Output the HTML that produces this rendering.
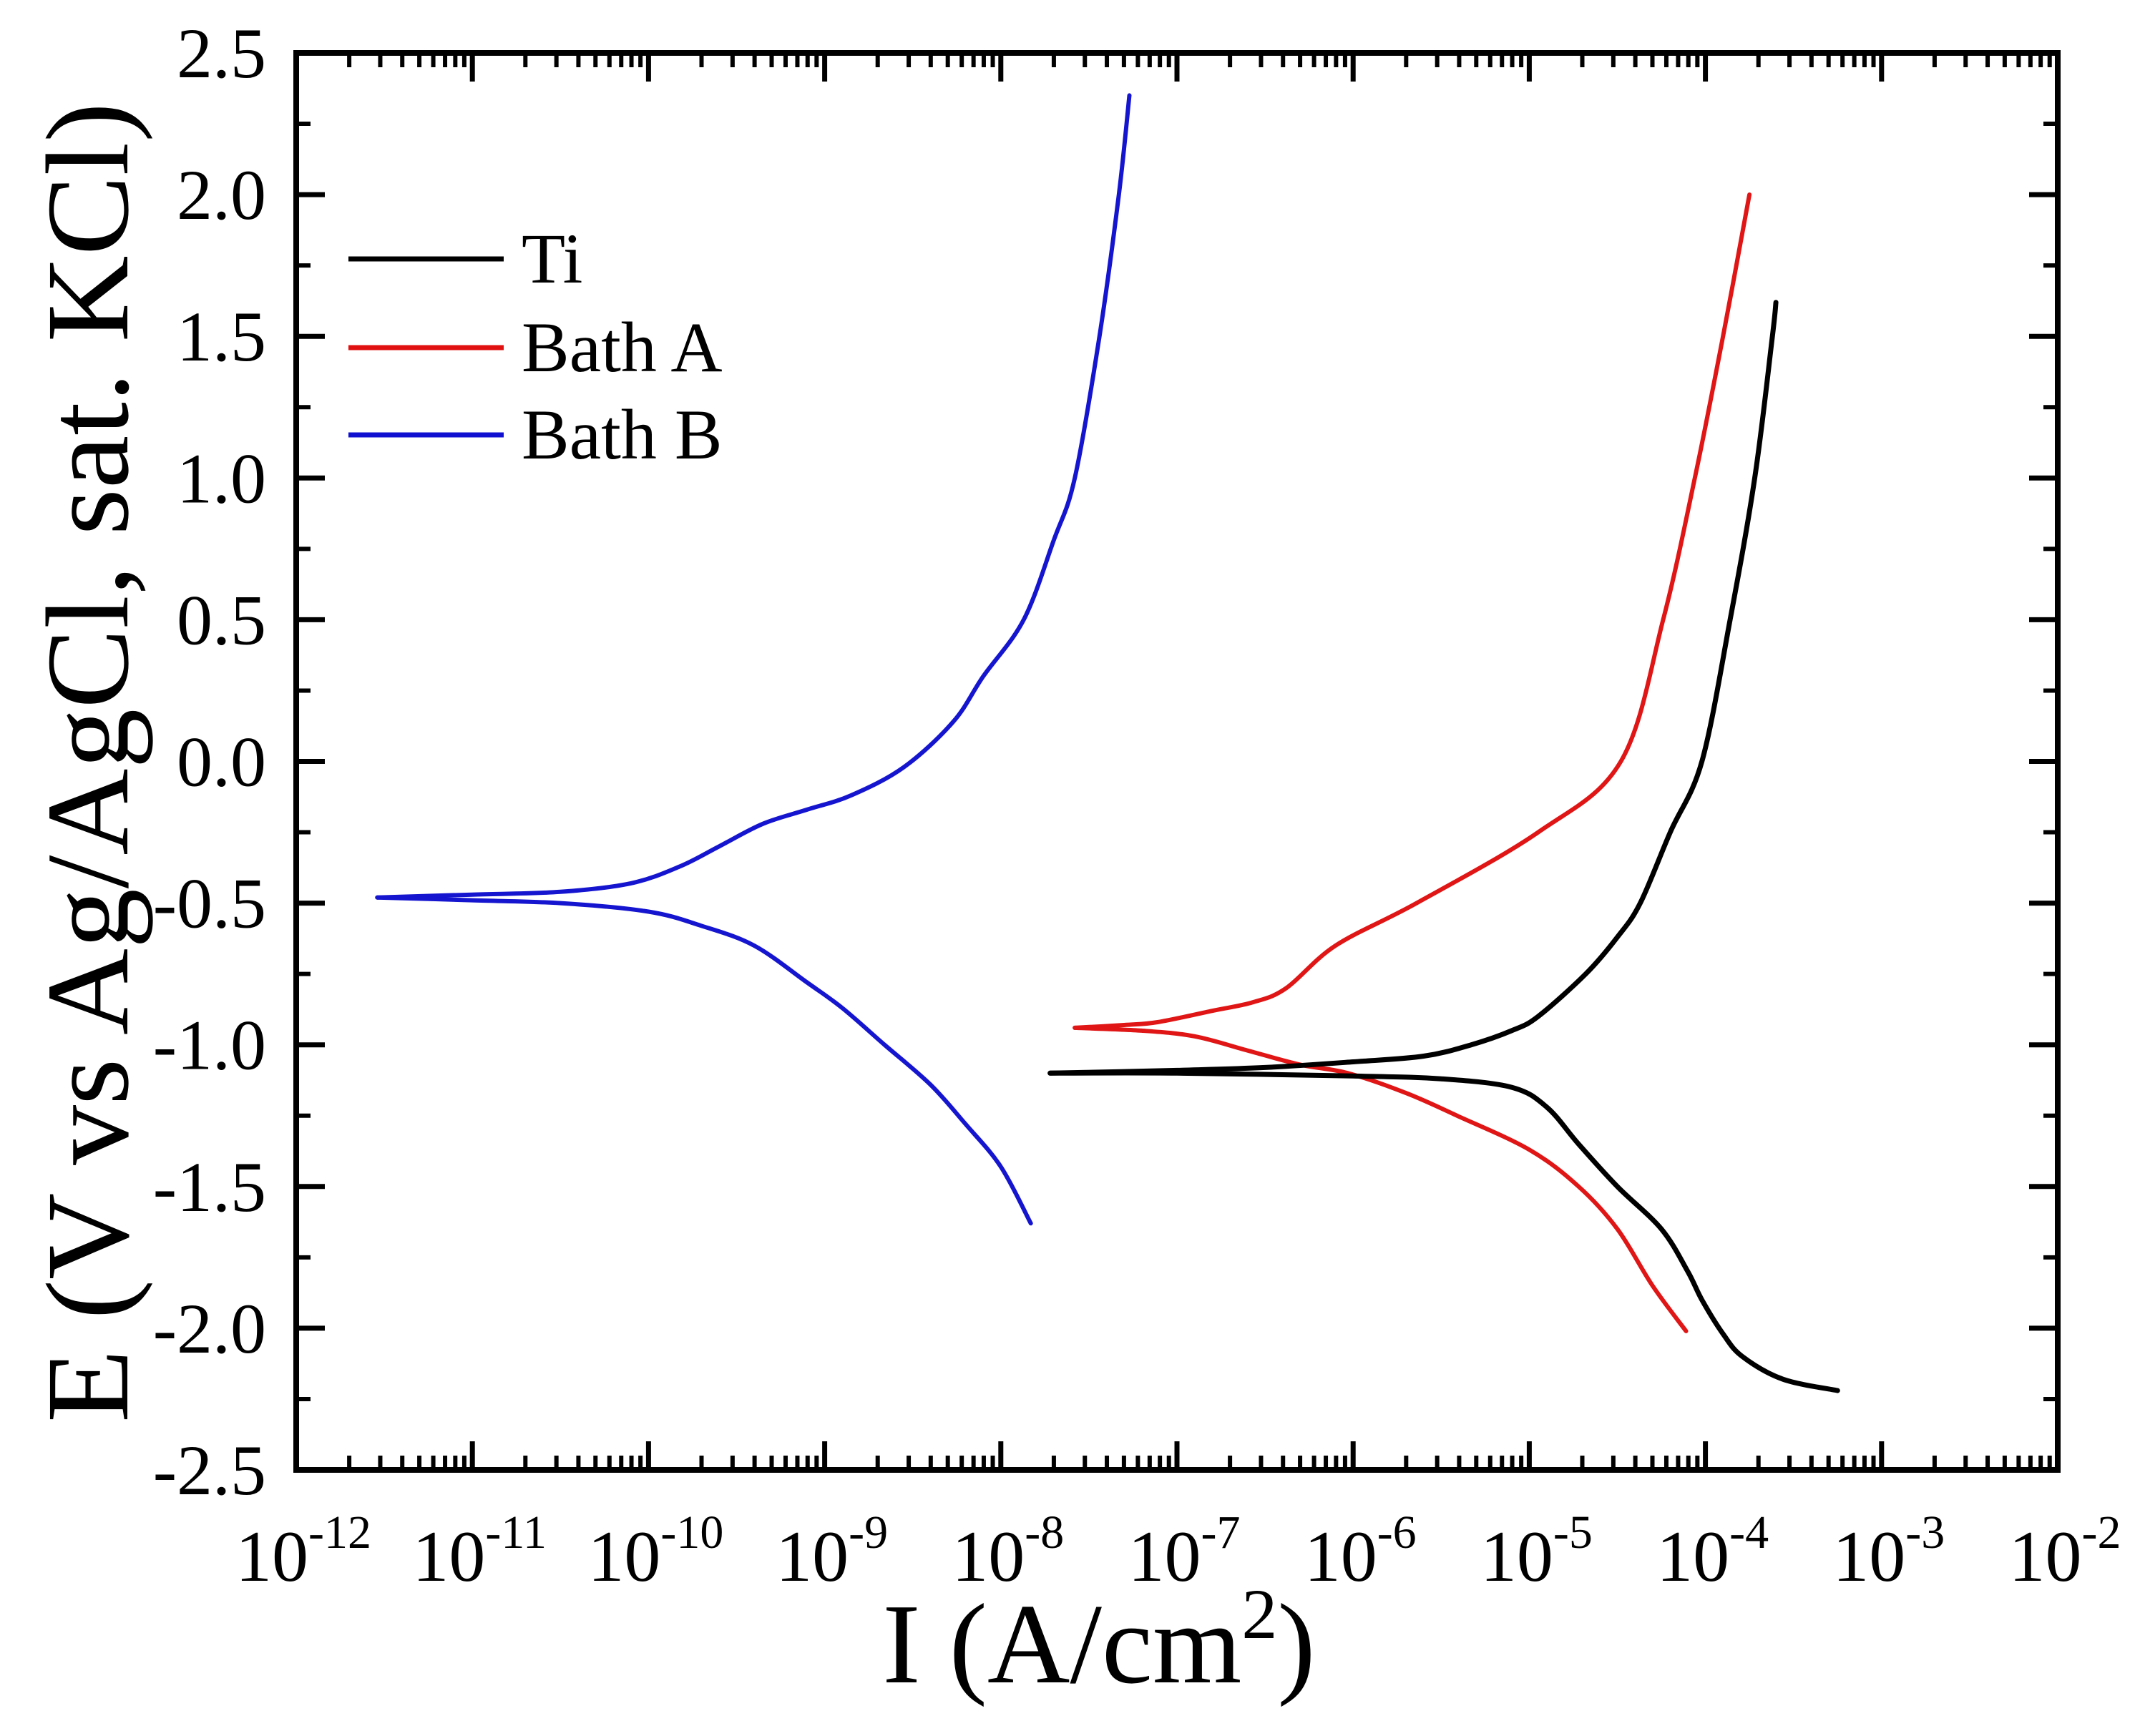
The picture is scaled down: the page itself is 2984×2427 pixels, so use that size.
<!DOCTYPE html>
<html><head><meta charset="utf-8"><style>
html,body{margin:0;padding:0;background:#fff;}
svg{display:block;}
text{font-family:"Liberation Serif","Times New Roman",serif;fill:#000;}
</style></head><body>
<svg id="chart" width="2984" height="2427" viewBox="0 0 2984 2427" xmlns="http://www.w3.org/2000/svg">
<g id="plot"></g>
<g id="axes"></g>
<text x="1536" y="2352" font-size="160" text-anchor="middle">I (A/cm<tspan font-size="100" dy="-62">2</tspan><tspan dy="62">)</tspan></text>
<text transform="translate(178,1066) rotate(-90)" font-size="165" text-anchor="middle" textLength="1846" lengthAdjust="spacingAndGlyphs">E (V vs Ag/AgCl, sat. KCl)</text>
<g>
<line x1="487" y1="362" x2="704" y2="362" stroke="#000" stroke-width="7"/>
<text x="729" y="395" font-size="100">Ti</text>
<line x1="487" y1="486" x2="704" y2="486" stroke="#e01010" stroke-width="7"/>
<text x="729" y="519" font-size="100">Bath A</text>
<line x1="487" y1="608" x2="704" y2="608" stroke="#1010d0" stroke-width="7"/>
<text x="729" y="641" font-size="100">Bath B</text>
</g>
</svg>
<script>
// data: log10(I) and E
const xExponents = [-12,-11,-10,-9,-8,-7,-6,-5,-4,-3,-2];
const yTicks = [2.5,2.0,1.5,1.0,0.5,0.0,-0.5,-1.0,-1.5,-2.0,-2.5];
const yTickLabels = ["2.5","2.0","1.5","1.0","0.5","0.0","-0.5","-1.0","-1.5","-2.0","-2.5"];
const bathBAnodicLogI = [-11.54,-11,-10.5,-10.1,-9.82,-9.6,-9.35,-9.1,-8.85,-8.55,-8.27,-8.1,-7.87,-7.7,-7.58,-7.44,-7.33,-7.27];
const bathBAnodicE = [-0.48,-0.47,-0.46,-0.43,-0.37,-0.3,-0.22,-0.17,-0.12,-0.02,0.14,0.3,0.5,0.78,1.0,1.5,2.0,2.35];
const bathBCathodicLogI = [-11.54,-11,-10.5,-10,-9.7,-9.4,-9.1,-8.9,-8.66,-8.4,-8.2,-8.0,-7.83];
const bathBCathodicE = [-0.48,-0.49,-0.5,-0.53,-0.58,-0.65,-0.78,-0.87,-1.0,-1.14,-1.28,-1.43,-1.63];
const bathAAnodicLogI = [-7.58,-7.3,-7.11,-6.8,-6.57,-6.38,-6.1,-5.64,-4.95,-4.48,-4.24,-4.06,-3.9,-3.75];
const bathAAnodicE = [-0.94,-0.93,-0.92,-0.88,-0.85,-0.8,-0.65,-0.5,-0.25,0.0,0.5,1.0,1.5,2.0];
const bathACathodicLogI = [-7.58,-7.2,-6.9,-6.6,-6.3,-6.03,-5.7,-5.41,-5.0,-4.72,-4.5,-4.3,-4.11];
const bathACathodicE = [-0.94,-0.95,-0.97,-1.02,-1.07,-1.1,-1.17,-1.25,-1.37,-1.5,-1.65,-1.85,-2.01];
const tiAnodicLogI = [-7.72,-7.0,-6.5,-6.0,-5.6,-5.33,-5.1,-4.95,-4.68,-4.5,-4.37,-4.2,-4.02,-3.86,-3.72,-3.62,-3.6];
const tiAnodicE = [-1.1,-1.09,-1.08,-1.06,-1.04,-1.0,-0.95,-0.9,-0.75,-0.62,-0.5,-0.25,0.0,0.5,1.0,1.5,1.62];
const tiCathodicLogI = [-7.72,-7,-6,-5.5,-5.1,-4.9,-4.72,-4.5,-4.25,-4.1,-4.02,-3.9,-3.79,-3.56,-3.25];
const tiCathodicE = [-1.1,-1.1,-1.11,-1.12,-1.15,-1.22,-1.35,-1.5,-1.65,-1.8,-1.9,-2.02,-2.1,-2.18,-2.22];

const L=414,R=2876,T=74,B=2055;
const xs=v=>L+(v+12)/10*(R-L);
const ys=v=>T+(2.5-v)/5*(B-T);
const NS="http://www.w3.org/2000/svg";
const plot=document.getElementById('plot'), axes=document.getElementById('axes');
function mk(tag,attrs,parent){const e=document.createElementNS(NS,tag);for(const k in attrs)e.setAttribute(k,attrs[k]);parent.appendChild(e);return e;}

function curve(lx,ey,color,w,name){
  const P=lx.map((v,i)=>[xs(v),ys(ey[i])]);
  let d='M'+P[0][0].toFixed(1)+','+P[0][1].toFixed(1);
  for(let i=0;i<P.length-1;i++){
    const p0=P[Math.max(i-1,0)],p1=P[i],p2=P[i+1],p3=P[Math.min(i+2,P.length-1)];
    const c1=[p1[0]+(p2[0]-p0[0])/6,p1[1]+(p2[1]-p0[1])/6];
    const c2=[p2[0]-(p3[0]-p1[0])/6,p2[1]-(p3[1]-p1[1])/6];
    d+='C'+c1[0].toFixed(1)+','+c1[1].toFixed(1)+' '+c2[0].toFixed(1)+','+c2[1].toFixed(1)+' '+p2[0].toFixed(1)+','+p2[1].toFixed(1);
  }
  const p=mk('path',{d:d,fill:'none',stroke:color,'stroke-width':w,'stroke-linejoin':'round','stroke-linecap':'round'},plot);
  
  
}
curve(bathBAnodicLogI,bathBAnodicE,'#1515d0',6,'bath-b-anodic-curve');
curve(bathBCathodicLogI,bathBCathodicE,'#1515d0',6,'bath-b-cathodic-curve');
curve(bathAAnodicLogI,bathAAnodicE,'#e01515',6,'bath-a-anodic-curve');
curve(bathACathodicLogI,bathACathodicE,'#e01515',6,'bath-a-cathodic-curve');
curve(tiAnodicLogI,tiAnodicE,'#000',7,'ti-anodic-curve');
curve(tiCathodicLogI,tiCathodicE,'#000',7,'ti-cathodic-curve');

const frame=mk('rect',{x:L,y:T,width:R-L,height:B-T,fill:'none',stroke:'#000','stroke-width':8},axes);



for(let i=0;i<xExponents.length;i++){
  const e=xExponents[i], x=xs(e);
  mk('line',{x1:x,y1:B,x2:x,y2:B-40,stroke:'#000','stroke-width':7},axes);
  mk('line',{x1:x,y1:T,x2:x,y2:T+40,stroke:'#000','stroke-width':7},axes);
  if(i<xExponents.length-1){
    for(let m=2;m<=9;m++){
      const xm=xs(e+Math.log10(m));
      mk('line',{x1:xm,y1:B,x2:xm,y2:B-20,stroke:'#000','stroke-width':6},axes);
      mk('line',{x1:xm,y1:T,x2:xm,y2:T+20,stroke:'#000','stroke-width':6},axes);
    }
  }
  const t=mk('text',{x:x+10,y:2210,'font-size':102,'text-anchor':'middle'},axes);
  
  
  t.textContent='10';
  const s=mk('tspan',{'font-size':66,dy:-46},t);
  s.textContent=String(e);
}
for(let i=0;i<yTicks.length;i++){
  const y=ys(yTicks[i]);
  mk('line',{x1:L,y1:y,x2:L+40,y2:y,stroke:'#000','stroke-width':7},axes);
  mk('line',{x1:R,y1:y,x2:R-40,y2:y,stroke:'#000','stroke-width':7},axes);
  if(i<yTicks.length-1){
    const ym=ys(yTicks[i]-0.25);
    mk('line',{x1:L,y1:ym,x2:L+20,y2:ym,stroke:'#000','stroke-width':6},axes);
    mk('line',{x1:R,y1:ym,x2:R-20,y2:ym,stroke:'#000','stroke-width':6},axes);
  }
  const t=mk('text',{x:372,y:y+34,'font-size':100,'text-anchor':'end'},axes);
  
  
  t.textContent=yTickLabels[i];
}
</script>
</body></html>
